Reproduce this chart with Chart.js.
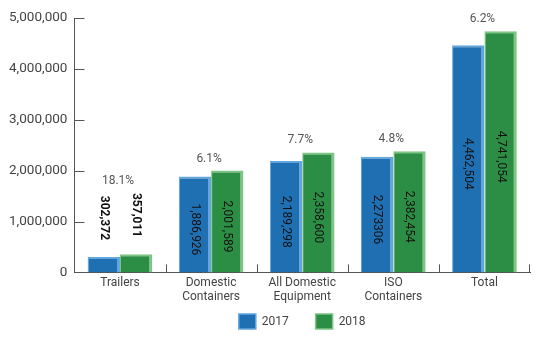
<!DOCTYPE html>
<html>
<head>
<meta charset="utf-8">
<script src="https://cdn.jsdelivr.net/npm/chart.js@4"></script>
<style>
  html, body { margin: 0; padding: 0; background: #fff; }
  #wrap { width: 538px; height: 341px; }
</style>
</head>
<body>
<div id="wrap"><canvas id="chart" width="538" height="341"></canvas></div>
<script>
// Equipment counts by category
const categories = [['Trailers'], ['Domestic', 'Containers'], ['All Domestic', 'Equipment'], ['ISO', 'Containers'], ['Total']];
const values2017 = [302372, 1886926, 2189298, 2273306, 4462504];
const values2018 = [357011, 2001589, 2358600, 2382454, 4741054];
const labels2017 = ['302,372', '1,886,926', '2,189,298', '2,273306', '4,462,504'];
const labels2018 = ['357,011', '2,001,589', '2,358,600', '2,382,454', '4,741,054'];
const growth = ['18.1%', '6.1%', '7.7%', '4.8%', '6.2%'];
const yTicks = [0, 1000000, 2000000, 3000000, 4000000, 5000000];

const FONT = 'Roboto, "Noto Sans", sans-serif';
const AXIS = '#555';

// short tick marks drawn inward, plus the value and growth labels
const decorPlugin = {
    id: 'decor',
    afterDraw(chart) {
        const ctx = chart.ctx;
        const x = chart.scales.x, y = chart.scales.y;
        const area = chart.chartArea;
        ctx.save();
        ctx.strokeStyle = AXIS;
        ctx.lineWidth = 1;
        yTicks.forEach(v => {
            const py = Math.round(y.getPixelForValue(v)) + 0.5;
            ctx.beginPath();
            ctx.moveTo(area.left, py);
            ctx.lineTo(area.left + 10, py);
            ctx.stroke();
        });
        for (let i = 1; i <= categories.length; i++) {
            const px = Math.round((x.getPixelForValue(i - 1) + x.getPixelForValue(i)) / 2) + 0.5;
            const edge = i === categories.length ? area.right - 0.5 : px;
            ctx.beginPath();
            ctx.moveTo(edge, area.bottom);
            ctx.lineTo(edge, area.bottom - 8);
            ctx.stroke();
        }

        const base = y.getPixelForValue(0);
        const textSets = [labels2017, labels2018];
        categories.forEach((c, i) => {
            let topMost = Infinity;
            [0, 1].forEach(d => {
                const bar = chart.getDatasetMeta(d).data[i];
                const txt = textSets[d][i];
                const inside = (base - bar.y) > 60;
                ctx.font = (inside ? '' : 'bold ') + '12px ' + FONT;
                const w = ctx.measureText(txt).width;
                let cy;
                if (inside) {
                    cy = (bar.y + base) / 2 + 5;
                    topMost = Math.min(topMost, bar.y);
                } else {
                    cy = bar.y - 17 - w / 2;
                    topMost = Math.min(topMost, cy - w / 2);
                }
                ctx.save();
                ctx.translate(bar.x, cy);
                ctx.rotate(Math.PI / 2);
                ctx.fillStyle = '#111';
                ctx.textAlign = 'center';
                ctx.textBaseline = 'middle';
                ctx.fillText(txt, 0, 0);
                ctx.restore();
            });
            ctx.font = '12px ' + FONT;
            ctx.fillStyle = '#555';
            ctx.textAlign = 'center';
            ctx.textBaseline = 'middle';
            ctx.fillText(growth[i], x.getPixelForValue(i) - 2, topMost - 12);
        });
        ctx.restore();
    }
};

new Chart(document.getElementById('chart'), {
    type: 'bar',
    data: {
        labels: categories,
        datasets: [{
            label: '2017',
            data: values2017,
            backgroundColor: '#1f6fb3',
            borderColor: '#62a6de',
            borderWidth: { top: 2, right: 3, left: 1, bottom: 0 },
            borderSkipped: false
        }, {
            label: '2018',
            data: values2018,
            backgroundColor: '#2c8e45',
            borderColor: '#7cc583',
            borderWidth: { top: 2, right: 3, left: 1, bottom: 0 },
            borderSkipped: false
        }]
    },
    options: {
        responsive: false,
        animation: false,
        layout: { padding: { left: 2, right: 8, top: 18, bottom: 2 } },
        categoryPercentage: 0.71,
        barPercentage: 1.0,
        plugins: {
            legend: {
                position: 'bottom',
                fullSize: false,
                labels: {
                    boxWidth: 17,
                    boxHeight: 15,
                    padding: 6,
                    color: '#444',
                    font: { family: FONT, size: 12 },
                    // trailing spaces on the first entry widen the gap to the second
                    generateLabels: chart => Chart.defaults.plugins.legend.labels.generateLabels(chart)
                        .map((item, i) => Object.assign(item, { text: i === 0 ? item.text + '       ' : item.text }))
                }
            },
            tooltip: { enabled: false }
        },
        scales: {
            x: {
                grid: { display: false, drawTicks: false },
                border: { color: AXIS, width: 1 },
                ticks: { color: '#444', font: { family: FONT, size: 12, lineHeight: 1.15 }, padding: 4, maxRotation: 0 }
            },
            y: {
                min: 0,
                max: 5000000,
                afterBuildTicks: axis => { axis.ticks = yTicks.map(v => ({ value: v })); },
                grid: { display: false, drawTicks: false },
                border: { color: AXIS, width: 1 },
                ticks: {
                    color: '#444',
                    padding: 7,
                    font: { family: FONT, size: 13.5 },
                    callback: v => v.toLocaleString('en-US')
                }
            }
        }
    },
    plugins: [decorPlugin]
});
</script>
</body>
</html>
